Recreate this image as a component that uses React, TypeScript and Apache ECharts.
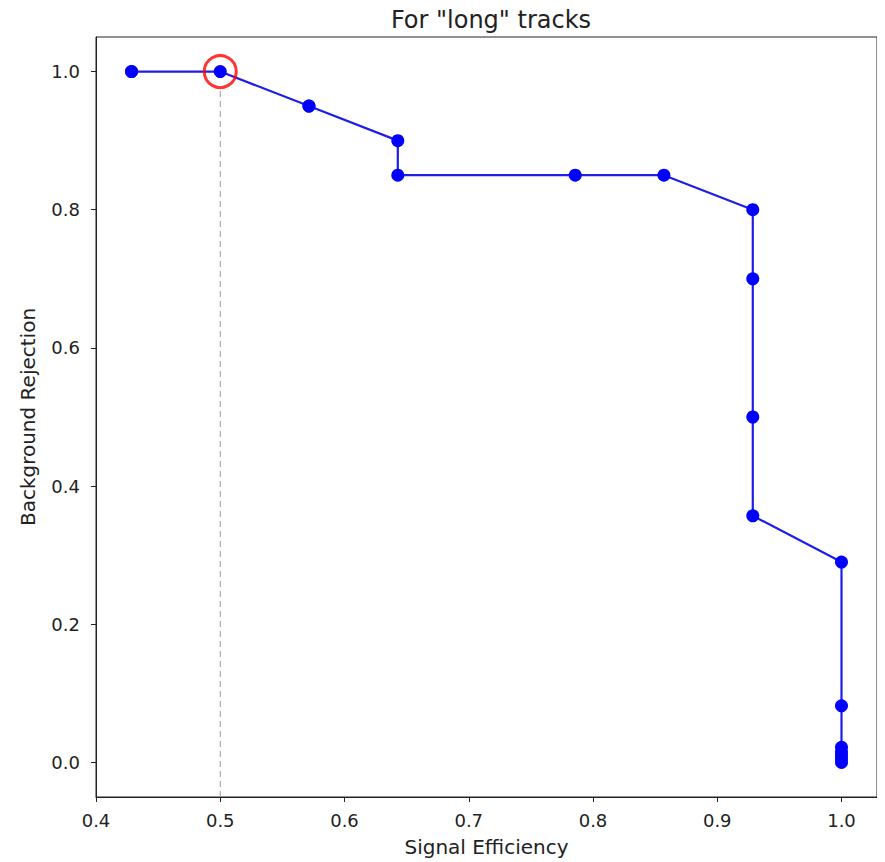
import React, { useEffect, useRef } from "react";
import * as echarts from "echarts";

// ROC-style curve: signal efficiency vs background rejection
const signalEfficiency = [
  0.4286, 0.4286, 0.5, 0.5714, 0.5714, 0.6429, 0.6429, 0.7857, 0.8571, 0.9286,
  0.9286, 0.9286, 0.9286, 1.0, 1.0, 1.0, 1.0, 1.0, 1.0, 1.0,
];
const backgroundRejection = [
  1.0, 1.0, 1.0, 0.95, 0.95, 0.9, 0.85, 0.85, 0.85, 0.8,
  0.7, 0.5, 0.357, 0.29, 0.082, 0.022, 0.015, 0.01, 0.005, 0.0,
];

// Highlighted working point
const workingPoint = [0.5, 1.0];
const xTicks = [0.4, 0.5, 0.6, 0.7, 0.8, 0.9, 1.0];
const yTicks = [0.0, 0.2, 0.4, 0.6, 0.8, 1.0];

const FONT = "DejaVu Sans";

export default function App() {
  const ref = useRef<HTMLDivElement>(null);

  useEffect(() => {
    if (!ref.current) return;
    const chart = echarts.init(ref.current, undefined, { renderer: "svg" });
    const curve = signalEfficiency.map((x, i) => [x, backgroundRejection[i]]);

    const axisCommon = {
      splitLine: { show: false },
      axisLine: { show: true, onZero: false, lineStyle: { color: "#222", width: 1 } },
    };

    chart.setOption({
      animation: false,
      backgroundColor: "#ffffff",
      title: {
        text: 'For "long" tracks',
        left: 486,
        textAlign: "center",
        top: 3,
        textStyle: { fontFamily: FONT, fontSize: 24, fontWeight: "normal", color: "#222" },
      },
      grid: {
        left: 96,
        right: 8,
        top: 37,
        bottom: 62,
        show: true,
        borderColor: "#222",
        borderWidth: 1,
        backgroundColor: "transparent",
      },
      xAxis: {
        type: "value",
        min: 0.4,
        max: 1.0285714,
        name: "Signal Efficiency",
        nameLocation: "middle",
        nameGap: 40,
        nameTextStyle: { fontFamily: FONT, fontSize: 20, color: "#222" },
        ...axisCommon,
        axisTick: {
          show: true,
          inside: false,
          length: 5,
          customValues: xTicks,
          lineStyle: { color: "#222" },
        },
        axisLabel: {
          customValues: xTicks,
          margin: 14,
          fontFamily: FONT,
          fontSize: 18,
          color: "#222",
          formatter: (v: number) => v.toFixed(1),
        },
      },
      yAxis: {
        type: "value",
        min: -0.05,
        max: 1.05,
        name: "Background Rejection",
        nameLocation: "middle",
        nameGap: 58,
        nameRotate: 90,
        nameTextStyle: { fontFamily: FONT, fontSize: 20, color: "#222" },
        ...axisCommon,
        axisTick: {
          show: true,
          inside: false,
          length: 5,
          customValues: yTicks,
          lineStyle: { color: "#222" },
        },
        axisLabel: {
          customValues: yTicks,
          margin: 16,
          fontFamily: FONT,
          fontSize: 18,
          color: "#222",
          formatter: (v: number) => v.toFixed(1),
        },
      },
      series: [
        {
          name: "cut",
          type: "line",
          data: [
            [workingPoint[0], -0.05],
            [workingPoint[0], 0.975],
          ],
          symbol: "none",
          lineStyle: { color: "#999999", width: 1, type: [6, 4] },
          z: 1,
        },
        {
          name: "roc",
          type: "line",
          data: curve,
          symbol: "circle",
          symbolSize: 13,
          lineStyle: { color: "#1e1ee6", width: 2.2 },
          itemStyle: { color: "#0000ff" },
          z: 2,
        },
        {
          name: "working point",
          type: "scatter",
          data: [workingPoint],
          symbol: "circle",
          symbolSize: 32,
          itemStyle: { color: "rgba(0,0,0,0)", borderColor: "#ff0000", borderWidth: 3 },
          z: 3,
        },
      ],
    });
    return () => chart.dispose();
  }, []);

  return <div ref={ref} style={{ width: 885, height: 862, marginLeft: -8, marginTop: -8 }} />;
}
